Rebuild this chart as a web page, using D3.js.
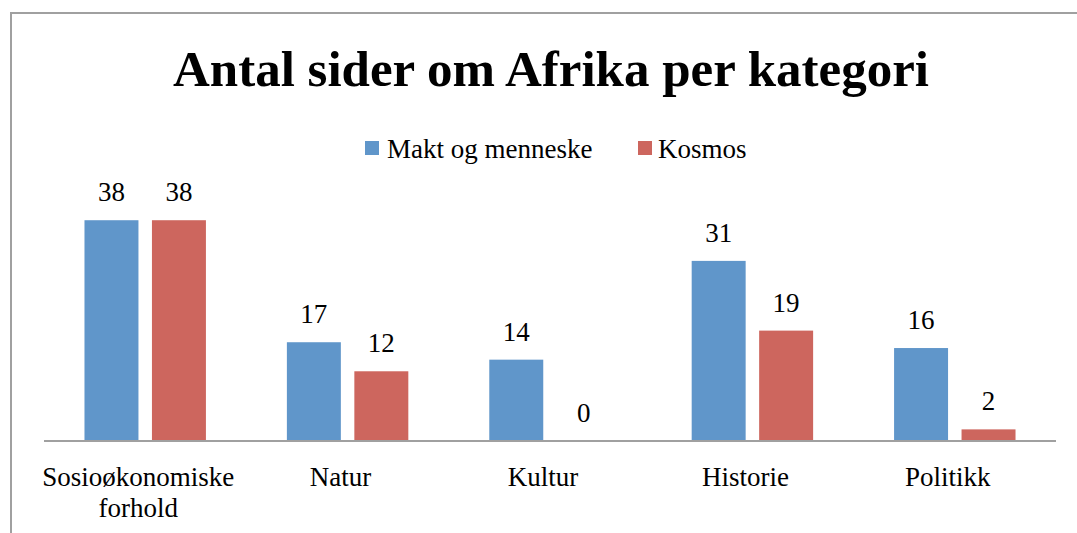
<!DOCTYPE html>
<html>
<head>
<meta charset="utf-8">
<script src="https://cdn.jsdelivr.net/npm/d3@7"></script>
<style>
  html, body { margin: 0; padding: 0; background: #fff; }
  svg { display: block; }
  text { font-family: "Liberation Serif", "Times New Roman", serif; fill: #000; }
</style>
</head>
<body>
<script>
const title = "Antal sider om Afrika per kategori";
const categories = ["Sosioøkonomiske forhold", "Natur", "Kultur", "Historie", "Politikk"];
const categoryLines = [["Sosioøkonomiske", "forhold"], ["Natur"], ["Kultur"], ["Historie"], ["Politikk"]];
const seriesNames = ["Makt og menneske", "Kosmos"];
const maktValues = [38, 17, 14, 31, 16];
const kosmosValues = [38, 12, 0, 19, 2];
const colors = ["#6096ca", "#cd665e"];

const W = 1077, H = 533;
const svg = d3.select("body").append("svg").attr("width", W).attr("height", H);

// frame (cropped chart border)
svg.append("path")
  .attr("d", `M11,${H} L11,13 L${W},13`)
  .attr("fill", "none").attr("stroke", "#a0a0a0").attr("stroke-width", 2);

// title
svg.append("text")
  .attr("x", 551).attr("y", 86)
  .attr("text-anchor", "middle")
  .style("font-size", "51px").style("font-weight", "bold")
  .text(title);

// scales
const baseline = 441;
const y = d3.scaleLinear().domain([0, 40]).range([baseline, baseline - 232.4]);
const x0 = d3.scaleBand().domain(categories).range([44, 1056]).paddingInner(0).paddingOuter(0);
const gapOuter = x0.bandwidth() * 0.2;
const x1 = d3.scaleBand().domain(seriesNames).range([gapOuter, x0.bandwidth() - gapOuter]).paddingInner(0.2).paddingOuter(0);

const data = categories.map((c, i) => ({
  cat: c,
  vals: [
    { s: seriesNames[0], v: maktValues[i], c: colors[0] },
    { s: seriesNames[1], v: kosmosValues[i], c: colors[1] }
  ]
}));

const groups = svg.append("g").selectAll("g").data(data).join("g")
  .attr("transform", d => `translate(${x0(d.cat)},0)`);

groups.selectAll("rect").data(d => d.vals).join("rect")
  .attr("x", d => x1(d.s))
  .attr("y", d => y(d.v))
  .attr("width", x1.bandwidth())
  .attr("height", d => baseline - y(d.v))
  .attr("fill", d => d.c);

groups.selectAll("text.val").data(d => d.vals).join("text")
  .attr("class", "val")
  .attr("x", d => x1(d.s) + x1.bandwidth() / 2)
  .attr("y", d => y(d.v) - 19)
  .attr("text-anchor", "middle")
  .style("font-size", "27px")
  .text(d => d.v);

// x axis line
svg.append("line")
  .attr("x1", 44).attr("x2", 1056)
  .attr("y1", baseline).attr("y2", baseline)
  .attr("stroke", "#a0a0a0").attr("stroke-width", 2);

// category labels
const labels = svg.append("g").selectAll("text").data(categories).join("text")
  .attr("text-anchor", "middle")
  .attr("transform", d => `translate(${x0(d) + x0.bandwidth() / 2 - 7},486)`)
  .style("font-size", "27px");
labels.selectAll("tspan").data((d, i) => categoryLines[i]).join("tspan")
  .attr("x", 0).attr("y", (d, i) => i * 31)
  .text(d => d);

// legend
const legendPos = [{ sx: 365, tx: 387 }, { sx: 638, tx: 658 }];
const legend = svg.append("g").selectAll("g").data(seriesNames).join("g");
legend.append("rect")
  .attr("x", (d, i) => legendPos[i].sx).attr("y", 141)
  .attr("width", 14).attr("height", 14)
  .attr("fill", (d, i) => colors[i]);
legend.append("text")
  .attr("x", (d, i) => legendPos[i].tx).attr("y", 158)
  .style("font-size", "27px")
  .text(d => d);
</script>
</body>
</html>
